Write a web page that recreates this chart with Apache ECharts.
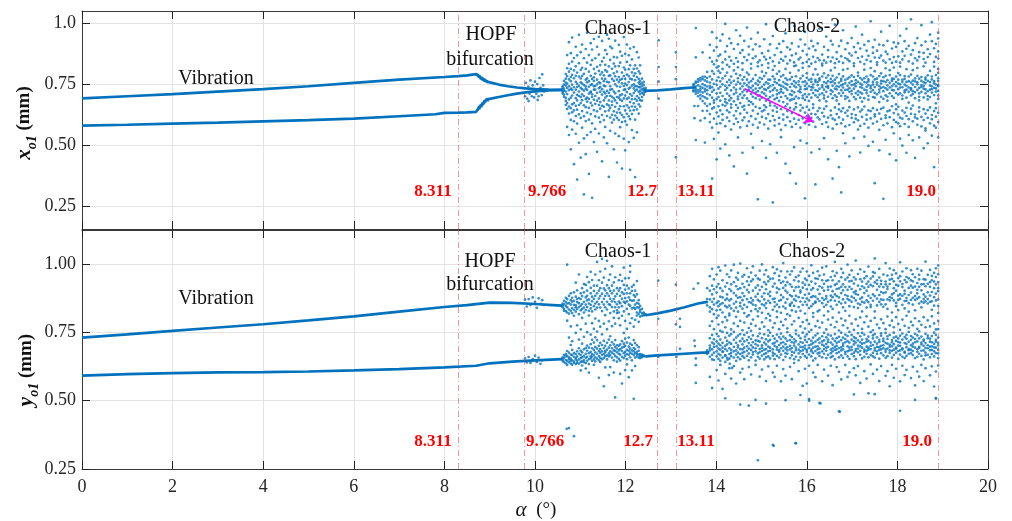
<!DOCTYPE html>
<html><head><meta charset="utf-8">
<script src="https://cdn.jsdelivr.net/npm/echarts@6/dist/echarts.min.js"></script>
<style>html,body{margin:0;padding:0;background:#fff}#c{width:1012px;height:521px}</style>
</head><body><div id="c"></div>
<script>
// ---------------- DATA ----------------
const xTickValues = [0,2,4,6,8,10,12,14,16,18,20];
const topYTicks = [0.25,0.5,0.75,1.0];
const topYLabels = ['0.25','0.50','0.75','1.0'];
const botYTicks = [0.25,0.5,0.75,1.0];
const botYLabels = ['0.25','0.50','0.75','1.00'];
const criticalAlpha = [8.311,9.766,12.7,13.11,18.9];
const criticalLabels = ['8.311','9.766','12.7','13.11','19.0'];

// x_o1 periodic branches
const topUpperBranch = [[0,.691],[1,.700],[2,.709],[3,.719],[4,.729],[5,.741],[6,.755],[7,.768],[8,.779],[8.3,.783],[8.5,.786],[8.7,.791],[8.74,.786],[8.8,.776],[8.9,.765],[9.0,.757],[9.2,.748],[9.4,.741],[9.6,.736],[9.8,.732],[10.0,.729],[10.3,.727],[10.6,.726]];
const topLowerBranch = [[0,.579],[1,.583],[2,.588],[3,.592],[4,.597],[5,.602],[6,.608],[7,.618],[7.8,.626],[8.0,.632],[8.3,.633],[8.5,.634],[8.7,.636],[8.76,.652],[8.84,.668],[8.93,.686],[9.0,.689],[9.2,.697],[9.4,.704],[9.6,.711],[9.8,.716],[10.0,.720],[10.3,.724],[10.6,.726]];
const topMidLine = [[12.4,.722],[12.7,.724],[13.0,.728],[13.3,.733],[13.55,.737]];
const topArrow = [[14.63,.731],[16.14,.595]];
// scattered points x_o1
const topExtraPts = [[8.74,.788],[8.76,.779],[8.78,.783],[8.8,.772],[8.82,.777],[8.84,.768],[8.86,.771],[8.88,.763],[8.9,.767],[8.93,.760],[8.96,.757],
[8.74,.646],[8.76,.656],[8.78,.651],[8.8,.664],[8.82,.659],[8.84,.672],[8.86,.668],[8.88,.680],[8.9,.676],[8.93,.687],[8.96,.683],
[9.78,.70],[9.8,.755],[9.83,.69],[9.85,.74],[9.88,.71],[9.9,.765],[9.93,.70],[9.95,.745],[9.98,.695],[10.0,.76],[10.03,.71],[10.05,.75],[10.08,.70],[10.1,.775],[10.12,.735],[10.15,.705],[10.18,.745],[10.2,.72],[9.86,.68],[10.06,.685],[10.16,.79],
[12.73,.93],[12.73,.82],[12.73,.76],[12.73,.69],[13.11,.88],[13.11,.82],[13.11,.77],[13.11,.45],[13.52,.66],[13.52,.61],[13.55,.52],[13.55,.86]];
const topChaos1Rows = [
[10.61,.726,.718,.734,.711,.741],
[10.64,.731,.707,.748,.698,.763,.722],
[10.68,.744,.693,.772,.681,.756,.719,.664,.791],
[10.71,.709,.783,.672,.752,.734,.648,.815,.574,.869],
[10.75,.725,.687,.801,.741,.658,.769,.833,.629,.541,.922],
[10.79,.762,.694,.731,.812,.651,.779,.603,.877,.482],
[10.82,.703,.748,.788,.667,.726,.842,.634,.563,.941],
[10.86,.737,.672,.774,.715,.806,.642,.857,.597,.421],
[10.90,.692,.759,.727,.823,.661,.784,.619,.903,.546],
[10.93,.751,.706,.683,.797,.738,.645,.868,.588,.358],
[10.97,.719,.781,.664,.743,.701,.836,.626,.952,.509],
[11.01,.773,.697,.734,.808,.672,.757,.611,.881,.448],
[11.04,.708,.752,.817,.684,.729,.639,.784,.912,.571],
[11.08,.746,.723,.663,.792,.701,.856,.618,.527,.297],
[11.12,.731,.768,.689,.812,.655,.741,.598,.894,.462],
[11.15,.694,.757,.726,.678,.838,.773,.633,.541,.961],
[11.19,.762,.711,.739,.652,.801,.689,.869,.604,.381],
[11.23,.716,.784,.673,.747,.829,.627,.719,.918,.553],
[11.26,.749,.697,.771,.708,.662,.848,.589,.892,.283],
[11.30,.727,.763,.686,.812,.741,.643,.778,.935,.512],
[11.33,.701,.742,.793,.669,.727,.856,.617,.566],
[11.37,.768,.714,.682,.749,.821,.638,.903,.472],
[11.41,.733,.691,.804,.757,.664,.871,.612,.547,.944],
[11.44,.754,.719,.828,.676,.738,.649,.789,.594],
[11.48,.707,.772,.729,.798,.661,.843,.623,.927,.433],
[11.52,.744,.786,.683,.718,.858,.657,.762,.602,.531],
[11.55,.771,.712,.829,.694,.741,.638,.807,.889,.574],
[11.59,.722,.801,.667,.759,.701,.873,.619,.952,.507],
[11.63,.757,.683,.823,.714,.642,.784,.662,.936,.369],
[11.66,.786,.702,.741,.652,.849,.612,.727,.904,.558],
[11.70,.729,.664,.813,.698,.624,.771,.678,.897,.592],
[11.74,.763,.691,.638,.834,.719,.604,.794,.861,.482],
[11.77,.712,.782,.657,.749,.621,.823,.683,.928,.547],
[11.81,.741,.672,.801,.633,.768,.697,.859,.611,.428],
[11.85,.779,.694,.647,.824,.721,.602,.758,.911,.536],
[11.88,.704,.767,.632,.739,.659,.838,.686,.883,.573],
[11.92,.753,.681,.797,.623,.771,.708,.866,.594,.403],
[11.96,.726,.659,.818,.691,.742,.614,.783,.943,.526],
[11.99,.771,.703,.642,.809,.728,.597,.752,.874,.478],
[12.03,.717,.789,.663,.746,.628,.841,.689,.912,.583],
[12.07,.758,.694,.811,.653,.731,.617,.783,.868,.512],
[12.10,.736,.676,.827,.709,.641,.772,.606,.896,.398],
[12.14,.702,.769,.658,.798,.688,.744,.627,.851,.561],
[12.18,.749,.713,.784,.671,.732,.812,.643,.902,.529],
[12.21,.723,.766,.689,.794,.657,.741,.827,.604,.368],
[12.25,.741,.701,.779,.682,.727,.814,.646,.881,.552],
[12.29,.718,.756,.693,.771,.667,.738,.802,.629,.859],
[12.32,.736,.709,.762,.684,.749,.722,.793,.658,.827],
[12.36,.728,.714,.753,.697,.741,.772,.682],
[12.40,.724,.731,.713,.746,.706,.759],
[12.44,.723,.727,.719,.734]];
const topChaos2Rows = [
[13.50,.735,.745,.725,.75,.72],
[13.55,.74,.73,.755,.72,.76,.71,.98],
[13.60,.745,.725,.76,.715,.77,.70,.66],
[13.65,.74,.72,.765,.705,.775,.73,.69,.60],
[13.70,.75,.715,.77,.70,.78,.735,.68,.64,.88],
[13.75,.745,.72,.78,.695,.765,.73,.67,.61,.51],
[13.80,.74,.71,.775,.69,.76,.725,.80,.66,.64],
[13.86,.742,.705,.781,.668,.756,.858,.911,.627,.594,.733],
[13.91,.718,.769,.694,.803,.737,.842,.963,.649,.571,.362],
[13.95,.751,.683,.726,.792,.673,.887,.831,.608,.654,.525],
[14.01,.764,.712,.689,.818,.747,.902,.846,.939,.633,.587,.441],
[14.05,.697,.778,.731,.659,.804,.865,.823,.617,.551],
[14.09,.739,.761,.682,.714,.796,.928,.871,.642,.589,.485],
[14.14,.773,.701,.749,.665,.812,.839,.954,.626,.603],
[14.20,.726,.688,.784,.743,.677,.883,.997,.851,.661,.577,.503],
[14.24,.758,.711,.671,.797,.734,.906,.829,.612,.642],
[14.29,.702,.767,.745,.683,.821,.862,.937,.598,.634,.457],
[14.33,.781,.724,.692,.756,.667,.846,.918,.653,.563],
[14.39,.736,.763,.709,.679,.806,.894,.833,.621,.586,.412],
[14.44,.715,.792,.748,.664,.727,.971,.857,.639,.608],
[14.48,.759,.699,.774,.688,.819,.842,.913,.594,.652,.531],
[14.53,.731,.708,.786,.752,.672,.878,.948,.629,.572],
[14.58,.768,.717,.693,.741,.809,.836,.889,.657,.601,.468],
[14.62,.704,.779,.726,.661,.753,.927,.861,.613,.645],
[14.68,.745,.691,.768,.719,.797,.848,.982,.632,.578,.382],
[14.72,.727,.756,.681,.789,.738,.871,.904,.664,.597],
[14.77,.762,.709,.735,.676,.814,.833,.936,.618,.546],
[14.81,.698,.771,.743,.724,.668,.892,.856,.641,.583,.489],
[14.87,.753,.715,.787,.692,.731,.864,.913,.607,.657],
[14.92,.721,.764,.702,.747,.823,.839,.961,.628,.571,.277],
[14.96,.776,.733,.686,.758,.704,.905,.847,.651,.592],
[15.01,.739,.694,.771,.716,.801,.877,.828,.615,.638,.516],
[15.06,.711,.783,.748,.663,.729,.934,.862,.643,.584],
[15.10,.757,.702,.726,.795,.682,.851,.996,.609,.655,.447],
[15.15,.734,.768,.689,.752,.817,.886,.835,.627,.567],
[15.19,.768,.719,.697,.741,.673,.913,.858,.662,.598,.503],
[15.25,.703,.746,.782,.725,.808,.843,.947,.619,.641,.264],
[15.29,.759,.688,.733,.771,.661,.869,.824,.602,.579],
[15.34,.724,.792,.708,.754,.693,.897,.976,.636,.653,.468],
[15.39,.747,.713,.766,.681,.802,.838,.915,.611,.587],
[15.43,.781,.729,.697,.743,.719,.881,.853,.647,.562,.532],
[15.48,.714,.758,.676,.787,.739,.926,.846,.625,.604],
[15.53,.752,.701,.774,.733,.812,.863,.958,.659,.581,.423],
[15.57,.726,.767,.691,.748,.668,.834,.901,.614,.639],
[15.63,.769,.708,.738,.683,.796,.892,.847,.597,.652,.384],
[15.67,.705,.751,.779,.722,.687,.917,.868,.631,.574],
[15.72,.743,.689,.762,.716,.824,.839,.988,.608,.646,.491],
[15.76,.737,.782,.699,.755,.671,.875,.826,.655,.586,.341],
[15.82,.761,.721,.692,.747,.806,.904,.851,.623,.603],
[15.86,.716,.773,.739,.664,.729,.859,.933,.641,.571,.518],
[15.91,.784,.703,.758,.692,.817,.836,.886,.609,.652],
[15.96,.729,.761,.685,.743,.709,.912,.964,.633,.589,.281],
[16.00,.752,.698,.776,.731,.794,.871,.841,.618,.657,.507],
[16.05,.708,.767,.741,.681,.823,.896,.852,.644,.583],
[16.10,.771,.726,.694,.759,.738,.834,.927,.611,.628,.469],
[16.14,.736,.789,.713,.748,.667,.862,.905,.652,.596],
[16.19,.759,.704,.767,.725,.811,.889,.841,.626,.574,.338],
[16.24,.722,.746,.789,.696,.758,.917,.857,.639,.613],
[16.28,.766,.731,.707,.773,.683,.848,.978,.605,.651,.483],
[16.34,.745,.712,.781,.737,.826,.871,.834,.632,.586],
[16.38,.703,.758,.727,.794,.691,.903,.847,.617,.648,.528],
[16.43,.776,.739,.718,.754,.679,.838,.945,.659,.593],
[16.47,.734,.762,.698,.786,.742,.889,.861,.612,.574,.441],
[16.53,.757,.709,.771,.725,.806,.927,.843,.641,.622],
[16.57,.719,.784,.743,.692,.761,.859,.912,.608,.567,.362],
[16.62,.768,.731,.704,.753,.817,.836,.994,.654,.603],
[16.66,.741,.697,.777,.728,.683,.881,.853,.627,.585,.476],
[16.71,.712,.756,.791,.739,.668,.906,.842,.613,.646,.409],
[16.76,.763,.725,.702,.771,.745,.864,.928,.638,.589,.305],
[16.80,.736,.782,.714,.749,.808,.837,.971,.604,.651,.548],
[16.85,.754,.701,.767,.726,.689,.893,.857,.632,.576,.507],
[16.90,.727,.772,.743,.695,.813,.851,.918,.619,.641],
[16.94,.778,.718,.755,.733,.681,.876,.844,.655,.582,.453],
[16.99,.709,.746,.786,.722,.762,.939,.867,.611,.627],
[17.04,.748,.731,.697,.779,.824,.835,.902,.646,.593,.528],
[17.08,.766,.713,.741,.688,.753,.881,.986,.623,.608],
[17.13,.721,.784,.759,.706,.797,.857,.918,.601,.654,.563],
[17.18,.752,.694,.738,.775,.716,.896,.841,.637,.578,.469],
[17.22,.735,.768,.711,.747,.678,.863,.953,.615,.645],
[17.27,.774,.727,.758,.692,.809,.832,.911,.658,.587,.534],
[17.32,.713,.756,.781,.739,.724,.887,.849,.624,.604],
[17.36,.761,.702,.746,.769,.686,.926,.866,.642,.571,.496],
[17.41,.742,.787,.718,.733,.816,.843,1.008,.609,.639],
[17.46,.725,.759,.697,.781,.748,.878,.901,.651,.588,.513],
[17.50,.769,.714,.738,.694,.803,.859,.932,.617,.626,.343],
[17.55,.748,.772,.708,.757,.829,.839,.887,.644,.596],
[17.60,.716,.741,.783,.727,.676,.912,.858,.629,.562,.478],
[17.64,.763,.698,.752,.734,.794,.867,.965,.607,.648],
[17.69,.738,.778,.721,.689,.762,.846,.909,.653,.581,.279],
[17.74,.784,.733,.704,.758,.815,.883,.838,.622,.611,.521],
[17.78,.727,.766,.745,.698,.682,.927,.873,.638,.589],
[17.83,.755,.712,.787,.736,.807,.852,.989,.614,.642,.462],
[17.88,.741,.763,.701,.772,.726,.896,.837,.659,.573],
[17.92,.771,.724,.749,.693,.818,.861,.921,.603,.631,.548],
[17.97,.713,.758,.781,.741,.667,.842,.903,.647,.594,.437],
[18.02,.752,.729,.707,.768,.795,.917,.864,.625,.657,.589],
[18.06,.736,.787,.749,.712,.822,.838,.948,.612,.577,.526],
[18.11,.768,.703,.737,.759,.689,.884,.851,.641,.608,.497],
[18.16,.724,.771,.716,.783,.748,.866,.926,.633,.586],
[18.20,.759,.742,.694,.727,.811,.895,.977,.619,.652,.468],
[18.25,.781,.718,.762,.736,.674,.843,.907,.606,.574,.541],
[18.30,.733,.756,.703,.789,.727,.871,1.016,.649,.628],
[18.34,.764,.709,.748,.721,.807,.834,.889,.662,.597,.519],
[18.39,.717,.773,.738,.692,.761,.918,.856,.625,.613,.447],
[18.44,.749,.726,.784,.757,.816,.847,.939,.608,.583],
[18.48,.772,.698,.734,.712,.683,.881,.862,.637,.654,.531],
[18.53,.738,.763,.718,.779,.746,.909,.992,.615,.576],
[18.58,.757,.731,.695,.743,.823,.853,.878,.647,.602,.487],
[18.62,.712,.777,.754,.728,.769,.838,.924,.629,.568,.559],
[18.67,.786,.721,.701,.763,.687,.893,.861,.611,.643,.507],
[18.72,.744,.758,.727,.697,.804,.873,.953,.654,.589],
[18.76,.729,.769,.741,.781,.715,.926,1.004,.623,.606,.538],
[18.81,.762,.705,.753,.734,.822,.841,.897,.639,.579,.409],
[18.85,.719,.787,.732,.748,.671,.862,.915,.616,.651,.571],
[18.90,.746,.722,.774,.703,.796,.884,.937,.632,.594,.812,.763,.689,.961,.531,.741,.855]];

// y_o1 periodic branches
const botUpperBranch = [[0,.731],[1,.743],[2,.756],[3,.768],[4,.780],[5,.794],[6,.809],[7,.826],[8,.843],[8.5,.850],[9.0,.859],[9.5,.858],[10.0,.854],[10.3,.851],[10.6,.848]];
const botLowerBranch = [[0,.592],[1,.597],[2,.601],[3,.604],[4,.605],[5,.607],[6,.611],[7,.616],[8,.622],[8.7,.628],[9.0,.637],[9.5,.643],[10.0,.648],[10.6,.652]];
const botMidUpper = [[12.44,.813],[12.7,.820],[13.0,.830],[13.3,.842],[13.6,.856],[13.8,.862]];
const botMidLower = [[12.44,.662],[12.7,.666],[13.0,.669],[13.3,.672],[13.6,.675],[13.85,.677]];
const botExtraPts = [[9.78,.87],[9.82,.845],[9.86,.872],[9.9,.85],[9.95,.878],[10.0,.862],[10.04,.84],[10.08,.875],[10.12,.855],[10.16,.868],[10.2,.85],
[9.78,.655],[9.82,.64],[9.86,.66],[9.9,.638],[9.95,.652],[10.0,.665],[10.04,.642],[10.08,.658],[10.12,.635],[10.16,.648],
[10.7,.397],[10.75,.40],[10.86,.37],
[12.72,.94],[12.72,.80],[12.72,.66],[13.11,.925],[13.11,.78],[13.12,.66],[13.2,.80],[13.2,.77],[13.2,.69],
[13.5,.91],[13.52,.72],[13.53,.70],[13.55,.655],[13.55,.63],[13.55,.565],[13.6,.93],
[14.15,.68],[14.2,.665],[14.25,.65],[14.3,.635],[14.35,.62],
[15.27,.335],[15.75,.345],[16.3,.49],[16.73,.46],[18.85,.51],[16.05,.50]];
const botChaos1Rows = [
[10.61,.849,.842,.856,.651,.646,.659],
[10.64,.853,.836,.866,.656,.641,.667,.829],
[10.68,.861,.828,.847,.877,.649,.637,.671,.662],
[10.71,.842,.872,.823,.856,.646,.664,.631,.682,.793,.998],
[10.75,.857,.834,.884,.819,.659,.641,.676,.652,.731],
[10.79,.868,.829,.852,.893,.654,.636,.669,.647,.772,.704],
[10.82,.839,.862,.821,.877,.648,.667,.632,.686,.718],
[10.86,.866,.833,.851,.897,.643,.661,.639,.674,.811],
[10.90,.849,.881,.826,.842,.657,.634,.671,.651,.748,.932],
[10.93,.861,.836,.872,.904,.662,.646,.681,.638,.776],
[10.97,.843,.876,.817,.857,.651,.672,.636,.692,.724,.962],
[11.01,.872,.848,.893,.831,.656,.642,.667,.683,.761,.611],
[11.04,.854,.912,.836,.883,.644,.659,.677,.629,.803,.709],
[11.08,.862,.841,.897,.823,.649,.664,.688,.641,.734,.927],
[11.12,.878,.852,.924,.832,.657,.638,.672,.693,.782,.618],
[11.15,.843,.903,.867,.884,.661,.646,.683,.702,.751,.953],
[11.19,.871,.829,.934,.856,.652,.674,.634,.694,.812,.603],
[11.23,.893,.851,.838,.913,.663,.655,.679,.707,.742,.972],
[11.26,.864,.881,.827,.942,.646,.671,.692,.661,.723,.784],
[11.30,.902,.846,.873,.921,.667,.651,.686,.713,.763,.631],
[11.33,.856,.884,.962,.834,.659,.677,.697,.644,.801,.732],
[11.37,.893,.862,.921,.841,.672,.654,.691,.722,.753,1.008],
[11.41,.874,.941,.853,.903,.663,.682,.648,.701,.792,.584],
[11.44,.841,.912,.883,.973,.676,.657,.689,.712,.771,.642],
[11.48,.892,.861,.932,.828,.668,.681,.704,.652,.743,1.019],
[11.52,.873,.951,.852,.911,.671,.693,.656,.719,.782,.553],
[11.55,.904,.842,.884,.983,.677,.663,.701,.683,.813,.622],
[11.59,.862,.923,.893,.834,.666,.687,.712,.651,.762,1.012],
[11.63,.884,.942,.853,.912,.673,.694,.662,.724,.791,.594],
[11.66,.851,.902,.873,.962,.681,.667,.703,.736,.821,.623],
[11.70,.893,.843,.921,.864,.676,.692,.658,.714,.773,.992],
[11.74,.872,.933,.827,.903,.671,.684,.706,.648,.803,.603],
[11.77,.842,.882,.952,.861,.683,.664,.697,.722,.782,.512],
[11.81,.891,.831,.912,.853,.677,.691,.659,.703,.821,.643],
[11.85,.863,.823,.903,.842,.672,.684,.653,.701,.802,.941],
[11.88,.912,.857,.884,.961,.669,.688,.706,.647,.776,.598],
[11.92,.873,.938,.846,.897,.682,.661,.694,.718,.811,.563],
[11.96,.891,.827,.924,.862,.674,.697,.656,.709,.748,.987],
[11.99,.858,.907,.876,.948,.679,.665,.701,.727,.792,.612],
[12.03,.921,.864,.893,.836,.671,.686,.713,.652,.763,.633],
[12.07,.878,.949,.852,.911,.683,.668,.698,.731,.817,.586],
[12.10,.847,.893,.869,.972,.676,.691,.659,.709,.784,.994],
[12.14,.902,.838,.917,.866,.672,.684,.704,.648,.802,.611],
[12.18,.867,.924,.841,.887,.681,.667,.693,.722,.771,.507],
[12.21,.836,.881,.903,.852,.674,.689,.658,.711,.796,.627],
[12.25,.858,.823,.889,.842,.671,.679,.662,.703,.812,.938],
[12.29,.841,.868,.818,.855,.669,.683,.658,.696,.789],
[12.32,.826,.847,.808,.833,.664,.671,.656],
[12.36,.821,.836,.811,.664,.669,.659],
[12.40,.817,.812,.823,.663,.666],
[12.44,.814,.816,.662]];
const botChaos2Rows = [
[13.80,.861,.872,.849,.678,.684,.671,.912],
[13.86,.871,.842,.903,.826,.956,.774,.684,.702,.661,.729,.693,.587],
[13.91,.889,.835,.921,.862,.983,.791,.668,.713,.651,.741,.688,.547],
[13.95,.852,.908,.817,.944,.873,.762,.697,.676,.725,.649,.708],
[14.01,.896,.831,.962,.858,.917,.803,.681,.717,.662,.745,.699,.612],
[14.05,.864,.927,.846,.989,.812,.779,.672,.709,.653,.736,.691,.574],
[14.09,.912,.853,.881,.976,.833,.756,.687,.724,.667,.703,.646,.631],
[14.14,.878,.941,.823,.902,.857,.788,.679,.694,.712,.752,.658,.543],
[14.20,.847,.918,.869,.995,.806,.769,.701,.666,.689,.731,.642,.598,.509],
[14.24,.931,.874,.842,.963,.889,.794,.683,.719,.657,.706,.748],
[14.29,.867,.953,.819,.909,.848,.812,.692,.671,.738,.713,.654,.619],
[14.33,.902,.838,.977,.872,.926,.761,.675,.708,.686,.744,.663,.581],
[14.39,.855,.894,.934,.829,.998,.783,.697,.658,.723,.681,.752,.627],
[14.44,.919,.862,.951,.885,.841,.807,.684,.712,.669,.731,.646,.563],
[14.48,.877,.943,.826,.968,.908,.773,.703,.676,.695,.738,.659],
[14.53,.846,.912,.879,1.002,.858,.792,.671,.718,.652,.689,.744,.603,.486],
[14.58,.928,.868,.837,.954,.894,.758,.688,.727,.663,.706,.675,.617],
[14.62,.883,.961,.851,.916,.821,.786,.679,.694,.741,.657,.717,.579],
[14.68,.906,.843,.985,.872,.937,.808,.699,.664,.722,.683,.749],
[14.72,.861,.924,.813,.897,.953,.766,.673,.711,.691,.648,.733,.623,.482],
[14.77,.937,.876,.859,.969,.828,.781,.686,.726,.659,.703,.756,.596],
[14.81,.852,.903,.944,.867,.992,.797,.695,.669,.714,.678,.739],
[14.87,.914,.835,.881,.958,.849,.774,.681,.721,.647,.707,.692,.631,.503],
[14.92,.869,.947,.827,.922,.891,.809,.702,.673,.736,.661,.719,.282],
[14.96,.943,.864,.976,.838,.905,.763,.677,.689,.716,.654,.746,.588],
[15.01,.881,.917,.853,.999,.822,.787,.694,.729,.665,.703,.682,.614],
[15.06,.849,.962,.893,.871,.934,.771,.671,.713,.687,.743,.651],
[15.10,.926,.857,.908,.839,.978,.802,.689,.706,.674,.725,.659,.572,.489],
[15.15,.891,.937,.818,.954,.866,.758,.698,.662,.717,.681,.738,.626],
[15.19,.858,.899,.946,.883,.811,.794,.683,.723,.655,.694,.749],
[15.25,.947,.872,.833,.918,.989,.768,.676,.709,.688,.737,.665,.603,.338],
[15.29,.874,.929,.861,.967,.845,.784,.701,.671,.727,.652,.712,.587],
[15.34,.913,.852,.981,.896,.827,.806,.687,.718,.664,.742,.696,.628],
[15.39,.866,.941,.908,.843,.957,.762,.679,.704,.658,.733,.684],
[15.43,.931,.887,.822,.974,.869,.789,.692,.726,.669,.711,.746,.571],
[15.48,.845,.913,.878,.936,1.004,.776,.683,.714,.649,.698,.735,.616],
[15.53,.903,.859,.951,.838,.922,.798,.674,.707,.691,.728,.661,.592,.502],
[15.57,.872,.934,.817,.896,.973,.765,.696,.672,.719,.684,.751],
[15.63,.926,.848,.887,.962,.853,.811,.688,.722,.656,.701,.739,.624],
[15.67,.859,.917,.974,.882,.831,.779,.679,.714,.666,.733,.693,.579],
[15.72,.941,.871,.903,.847,.988,.791,.702,.676,.725,.652,.712,.638],
[15.76,.884,.952,.826,.915,.866,.757,.685,.718,.694,.744,.661,.344],
[15.82,.917,.843,.958,.879,.937,.803,.673,.706,.687,.738,.648,.608],
[15.86,.863,.896,.829,.972,.903,.772,.697,.729,.659,.715,.681,.521],
[15.91,.932,.876,.914,.851,.984,.788,.684,.712,.671,.749,.696,.554],
[15.96,.888,.947,.862,.925,.819,.764,.691,.723,.663,.702,.735,.617],
[16.00,.851,.908,.973,.874,.941,.795,.678,.715,.686,.743,.657,.563],
[16.05,.924,.867,.839,.957,.892,.781,.703,.669,.726,.693,.752,.506,.628],
[16.10,.879,.936,.906,.846,.996,.759,.687,.719,.662,.706,.681],
[16.14,.912,.854,.968,.883,.821,.807,.694,.731,.675,.711,.647,.603],
[16.19,.863,.929,.881,.948,.859,.773,.682,.716,.655,.739,.698,.586],
[16.24,.946,.873,.827,.907,.974,.792,.699,.673,.723,.688,.746,.631],
[16.28,.891,.958,.865,.832,.919,.768,.676,.712,.664,.728,.691,.492],
[16.34,.857,.914,.987,.876,.941,.786,.705,.681,.736,.659,.717,.571],
[16.38,.928,.869,.903,.844,.962,.812,.689,.721,.672,.701,.748,.614],
[16.43,.874,.939,.851,.992,.883,.761,.683,.708,.656,.732,.694],
[16.47,.917,.862,.941,.827,.906,.797,.697,.724,.668,.715,.742,.592],
[16.53,.885,.953,.918,.868,.845,.778,.674,.713,.687,.738,.659,.628],
[16.57,.941,.879,.836,.974,.901,.804,.692,.727,.663,.705,.681,.557],
[16.62,.866,.924,.889,.957,1.008,.769,.686,.719,.651,.744,.697],
[16.66,.909,.851,.968,.883,.928,.789,.701,.674,.729,.688,.712,.623],
[16.71,.878,.937,.823,.911,.862,.757,.678,.716,.659,.734,.693,.606,.461],
[16.76,.952,.894,.856,.983,.917,.801,.695,.722,.684,.749,.666,.578],
[16.80,.871,.926,.904,.842,.968,.776,.688,.709,.657,.731,.701],
[16.85,.916,.859,.943,.887,.829,.793,.679,.726,.671,.714,.742,.631],
[16.90,.883,.951,.872,.998,.906,.766,.699,.681,.737,.662,.718,.587],
[16.94,.937,.868,.917,.846,.961,.811,.684,.713,.694,.752,.653,.604],
[16.99,.862,.909,.977,.881,.939,.782,.697,.671,.724,.686,.741],
[17.04,.929,.876,.843,.952,.897,.759,.676,.718,.663,.706,.733,.619,.523],
[17.08,.891,.944,.902,.867,1.013,.798,.689,.729,.652,.713,.682,.593],
[17.13,.856,.921,.964,.839,.888,.774,.702,.677,.721,.691,.747,.627],
[17.18,.945,.873,.908,.981,.852,.805,.683,.714,.668,.736,.699,.565],
[17.22,.878,.936,.862,.919,.827,.763,.694,.724,.655,.709,.748],
[17.27,.913,.859,.972,.894,.948,.787,.679,.711,.687,.742,.661,.608],
[17.32,.867,.928,.841,.956,.903,.809,.698,.672,.726,.683,.716,.581],
[17.36,.936,.884,.917,.861,.991,.771,.687,.719,.659,.735,.694,.527],
[17.41,.851,.947,.876,.924,.843,.792,.701,.667,.713,.689,.751,.633],
[17.46,.919,.866,.955,.889,.971,.758,.675,.728,.662,.704,.739,.598],
[17.50,.883,.933,.827,.968,1.021,.803,.693,.716,.684,.744,.658,.524],
[17.55,.941,.874,.906,.849,.928,.779,.681,.709,.671,.732,.697,.614],
[17.60,.862,.918,.983,.887,.951,.766,.696,.723,.654,.715,.686,.572],
[17.64,.927,.853,.939,.871,.898,.798,.688,.674,.738,.701,.747,.627],
[17.69,.894,.962,.844,.916,.869,.784,.703,.718,.666,.727,.692],
[17.74,.853,.926,.897,1.004,.936,.762,.679,.712,.687,.748,.657,.591],
[17.78,.918,.871,.958,.836,.909,.808,.691,.726,.663,.709,.736,.608],
[17.83,.879,.943,.867,.927,.984,.776,.684,.705,.675,.741,.698,.553],
[17.88,.946,.889,.823,.961,.876,.793,.699,.722,.658,.714,.683,.631],
[17.92,.867,.912,.978,.894,.937,.769,.687,.731,.668,.707,.749,.584],
[17.97,.924,.858,.903,.846,.966,.806,.694,.676,.719,.691,.735,.617],
[18.02,.885,.949,.869,.921,.832,.781,.682,.715,.653,.728,.702],
[18.06,.937,.873,.956,.889,1.007,.759,.701,.669,.738,.684,.713,.571,.463],
[18.11,.851,.916,.884,.973,.927,.797,.688,.724,.661,.746,.692,.628],
[18.16,.903,.865,.942,.838,.891,.774,.679,.711,.676,.733,.656,.594],
[18.20,.876,.934,.866,.985,.953,.811,.696,.727,.664,.708,.741,.613],
[18.25,.948,.887,.913,.857,.826,.767,.685,.716,.689,.752,.672],
[18.30,.869,.921,.978,.896,.941,.789,.703,.674,.723,.687,.737,.583],
[18.34,.914,.852,.937,.877,.963,.776,.682,.709,.667,.731,.698,.624],
[18.39,.883,.952,.869,.918,.831,.802,.694,.726,.656,.714,.745,.556,.503],
[18.44,.931,.874,.893,.983,.906,.763,.688,.717,.679,.739,.661,.607],
[18.48,.856,.917,.961,.879,.944,.791,.697,.672,.728,.693,.754,.588],
[18.53,.926,.863,.904,.842,.976,.778,.683,.713,.664,.706,.735,.631],
[18.58,.889,.945,.872,.927,.859,.806,.701,.724,.651,.719,.684,.572],
[18.62,.943,.881,.919,.864,1.009,.769,.676,.711,.693,.745,.666,.619],
[18.67,.872,.928,.856,.961,.897,.794,.692,.729,.668,.703,.738],
[18.72,.917,.862,.979,.885,.934,.772,.685,.716,.659,.727,.698,.593],
[18.76,.864,.941,.898,.833,.957,.809,.699,.671,.737,.686,.714,.626],
[18.81,.936,.879,.912,.968,.848,.783,.681,.708,.662,.749,.695,.552],
[18.85,.892,.953,.867,.926,.985,.761,.694,.723,.674,.716,.741,.607,.508],
[18.90,.871,.934,.901,.847,.963,.792,.687,.712,.656,.731,.703,.629,.821,.995,.762,.912,.673]];

// ---------------- CHART ----------------
const BLUE = '#0072BD';
const FONT = 'Liberation Serif';
function rowsToPts(rows){ const out=[]; rows.forEach(r=>{ for(let i=1;i<r.length;i++) out.push([r[0], r[i]]); }); return out; }
const topPts = topExtraPts.concat(rowsToPts(topChaos1Rows), rowsToPts(topChaos2Rows));
const botPts = botExtraPts.concat(rowsToPts(botChaos1Rows), rowsToPts(botChaos2Rows));

const chart = echarts.init(document.getElementById('c'), null, {renderer:'canvas'});
const axisLineStyle = {color:'#3a3a3a', width:1};
const splitStyle = {color:'#e3e3e3', width:1};
function xAx(grid, pos, labels, split){
  return {type:'value', gridIndex:grid, position:pos, min:0, max:20, interval:2,
    axisLine:{show:true, onZero:false, lineStyle:axisLineStyle},
    axisTick:{show:true, inside:true, length:8, lineStyle:{color:'#222'}},
    axisLabel:{show:labels, color:'#262626', fontFamily:FONT, fontSize:18, margin:9},
    splitLine:{show:split, lineStyle:splitStyle}};
}
function yAx(grid, pos, min, max, ticks, labs, show, split){
  return {type:'value', gridIndex:grid, position:pos, min:min, max:max,
    axisLine:{show:true, onZero:false, lineStyle:axisLineStyle},
    axisTick:{show:true, inside:true, length:8, customValues:ticks, lineStyle:{color:'#222'}},
    axisLabel:{show:show, customValues:ticks, color:'#262626', fontFamily:FONT, fontSize:18, margin:6,
      formatter:function(v){ const i = ticks.findIndex(t=>Math.abs(t-v)<1e-6); return i>=0?labs[i]:''; }},
    splitLine:{show:split, lineStyle:splitStyle}};
}
function lineS(data, xi, yi, extra){
  return Object.assign({type:'line', data:data, xAxisIndex:xi, yAxisIndex:yi, showSymbol:false, symbol:'none',
    lineStyle:{color:BLUE, width:2.7}, silent:true, z:3}, extra||{});
}
const vMarks = {silent:true, symbol:'none', label:{show:false}, animation:false,
  lineStyle:{color:'rgba(255,60,60,0.55)', width:1, type:[6,3,1,3]},
  data: criticalAlpha.map(v=>({xAxis:v}))};

const option = {
  animation:false,
  grid:[{left:82, top:11, width:906, height:218},{left:82, top:230, width:906, height:239}],
  xAxis:[xAx(0,'bottom',false,true), xAx(0,'top',false,false), xAx(1,'bottom',true,true), xAx(1,'top',false,false)],
  yAxis:[yAx(0,'left',0.155,1.05,topYTicks,topYLabels,true,true), yAx(0,'right',0.155,1.05,topYTicks,topYLabels,false,false),
         yAx(1,'left',0.25,1.125,botYTicks,botYLabels,true,true), yAx(1,'right',0.25,1.125,botYTicks,botYLabels,false,false)],
  series:[
    {type:'scatter', data:topPts, xAxisIndex:0, yAxisIndex:0, symbol:'circle', symbolSize:2.7, itemStyle:{color:BLUE}, silent:true, progressive:0, large:false, markLine:vMarks, z:2},
    lineS(topUpperBranch,0,0), lineS(topLowerBranch,0,0),
    lineS(topMidLine,0,0,{markLine:{silent:true, symbol:['none','arrow'], symbolSize:9, label:{show:false},
      lineStyle:{color:'#ff00ff', width:1.5, type:'solid'}, data:[[{coord:topArrow[0]},{coord:topArrow[1]}]]}}),
    {type:'scatter', data:botPts, xAxisIndex:2, yAxisIndex:2, symbol:'circle', symbolSize:2.7, itemStyle:{color:BLUE}, silent:true, progressive:0, large:false, markLine:vMarks, z:2},
    lineS(botUpperBranch,2,2), lineS(botLowerBranch,2,2), lineS(botMidUpper,2,2), lineS(botMidLower,2,2)
  ]
};
chart.setOption(option);

// ---------------- TEXT ANNOTATIONS ----------------
function txt(x,y,t,size,color,weight){
  return {type:'text', x:x, y:y, z:50, silent:true, style:{text:t, fill:color, font:(weight||'normal')+' '+size+'px "'+FONT+'"', textAlign:'center', textVerticalAlign:'middle'}};
}
const annTop = [['Vibration',216,79],['HOPF',491,35],['bifurcation',490,60],['Chaos-1',618,29],['Chaos-2',807,27]];
const annBot = [['Vibration',216,299],['HOPF',490,262],['bifurcation',490,285],['Chaos-1',618,252],['Chaos-2',812,252]];
const redTopX = [433,547,642,696,921];
const redBotX = [433,545,638,696,917];
const g = [];
annTop.concat(annBot).forEach(a=>g.push(txt(a[1],a[2],a[0],20,'#111')));
criticalLabels.forEach((l,i)=>{ g.push(txt(redTopX[i],192,l,17,'#ff0000','bold')); g.push(txt(redBotX[i],442,l,17,'#ff0000','bold')); });
function yTitle(x,y,letter){
  return {type:'text', x:x, y:y, rotation:Math.PI/2, z:50, silent:true,
    style:{text:'{v|'+letter+'}{s|o1}{n| (mm)}', textAlign:'center', textVerticalAlign:'middle',
      rich:{v:{fontFamily:FONT, fontWeight:'bold', fontStyle:'italic', fontSize:21, lineHeight:25, verticalAlign:'top', fill:'#111'},
            s:{fontFamily:FONT, fontWeight:'bold', fontStyle:'italic', fontSize:14, lineHeight:14, verticalAlign:'bottom', fill:'#111'},
            n:{fontFamily:FONT, fontWeight:'bold', fontSize:19, lineHeight:25, verticalAlign:'top', fill:'#111'}}}};
}
g.push(yTitle(27,123,'x'));
g.push(yTitle(29,370,'y'));
g.push({type:'text', x:536, y:510, z:50, silent:true,
  style:{text:'{a|α}{b|  (°)}', textAlign:'center', textVerticalAlign:'middle',
    rich:{a:{fontFamily:FONT, fontStyle:'italic', fontSize:21, fill:'#111'}, b:{fontFamily:FONT, fontSize:19, fill:'#111'}}}});
chart.setOption({graphic:g});
</script>
</body></html>
